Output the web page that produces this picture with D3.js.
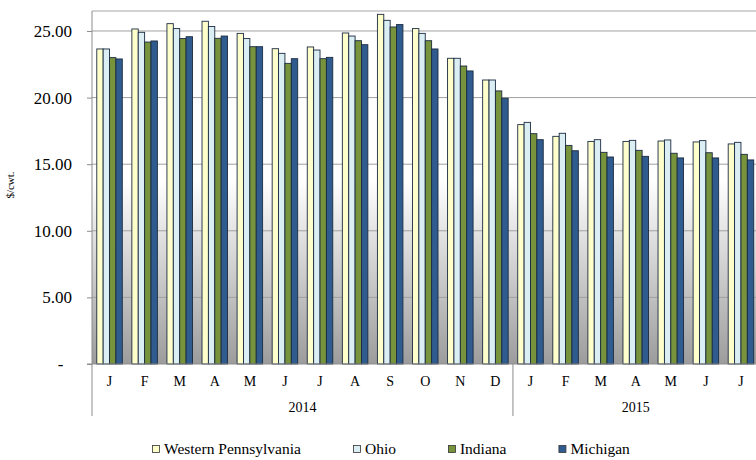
<!DOCTYPE html>
<html><head><meta charset="utf-8">
<script src="https://cdn.jsdelivr.net/npm/d3@7"></script>
<style>
body{margin:0;background:#fff}
svg{display:block}
</style>
</head><body><svg id="c" width="756" height="460"></svg>
<script>
const months = ["J","F","M","A","M","J","J","A","S","O","N","D","J","F","M","A","M","J","J"];
const years = ["2014","2015"];
const yearCounts = [12, 7];
const series = ["Western Pennsylvania","Ohio","Indiana","Michigan"];
const westernPennsylvania = [23.65,25.15,25.55,25.73,24.82,23.67,23.80,24.85,26.25,25.18,22.95,21.32, 17.97,17.09,16.71,16.71,16.74,16.67,16.52];
const ohio               = [23.65,24.90,25.18,25.34,24.43,23.32,23.57,24.62,25.80,24.82,22.95,21.32, 18.14,17.32,16.84,16.79,16.82,16.77,16.64];
const indiana            = [23.00,24.17,24.43,24.45,23.82,22.57,22.92,24.27,25.30,24.27,22.37,20.50, 17.29,16.41,15.89,16.04,15.82,15.86,15.74];
const michigan           = [22.90,24.25,24.57,24.62,23.82,22.92,23.02,23.97,25.48,23.65,22.00,19.95, 16.84,16.01,15.54,15.59,15.47,15.47,15.32];
const yTicks = [0,5,10,15,20,25];
const yTickLabels = ["-  ","5.00","10.00","15.00","20.00","25.00"];
const colors = ["#FFFFCC","#DBEEF4","#77933C","#2F5B8F"];
const yTitle = "$/cwt.";

const FONT = "'Liberation Serif', 'Times New Roman', serif";
const values = [westernPennsylvania, ohio, indiana, michigan];
const svg = d3.select("#c");
const L = 92, R = 758.5, T = 11, B = 364;

const x0 = d3.scaleBand().domain(d3.range(months.length)).range([L, R]).padding(0);
const bw = x0.bandwidth();
const gap = bw * 1.5 / 5.5;
const x1 = d3.scaleBand().domain(series).range([gap/2, bw - gap/2]).padding(0);
const y = d3.scaleLinear().domain([0, 26.5]).range([B, T]);

// plot-area gradient
const defs = svg.append("defs");
const g = defs.append("linearGradient").attr("id","bg").attr("x1",0).attr("y1",0).attr("x2",0).attr("y2",1);
g.append("stop").attr("offset","0%").attr("stop-color","#ffffff");
g.append("stop").attr("offset","48%").attr("stop-color","#ffffff");
g.append("stop").attr("offset","100%").attr("stop-color","#9c9c9c");
svg.append("rect").attr("x",L).attr("y",T).attr("width",R-L).attr("height",B-T).attr("fill","url(#bg)");

// gridlines
svg.append("g").selectAll("line").data(yTicks.filter(d=>d>0)).join("line")
  .attr("x1",L).attr("x2",R).attr("y1",d=>y(d)).attr("y2",d=>y(d))
  .attr("stroke","#a0a0a0").attr("stroke-width",1);
svg.append("line").attr("x1",L).attr("x2",R).attr("y1",T).attr("y2",T).attr("stroke","#a6a6a6").attr("stroke-width",1);

// bars
const gBars = svg.append("g");
series.forEach((s, si) => {
  gBars.append("g").selectAll("rect").data(values[si]).join("rect")
    .attr("x",(d,i)=>x0(i)+x1(s))
    .attr("y",d=>y(d))
    .attr("width",x1.bandwidth())
    .attr("height",d=>y(0)-y(d))
    .attr("fill",colors[si])
    .attr("stroke","#1b2b40").attr("stroke-width",0.9);
});

// y axis
const yAxis = d3.axisLeft(y).tickValues(yTicks).tickFormat((d,i)=>yTickLabels[i]).tickSize(5).tickPadding(15);
const ya = svg.append("g").attr("transform",`translate(${L},0)`).call(yAxis);
ya.select(".domain").remove();
ya.selectAll(".tick line").attr("stroke","#8c8c8c");
ya.selectAll(".tick text").style("font-family",FONT).style("font-size","17px").style("white-space","pre").attr("fill","#000");

svg.append("line").attr("x1",L).attr("x2",L).attr("y1",T).attr("y2",416).attr("stroke","#8c8c8c");
svg.append("line").attr("x1",L-5).attr("x2",R).attr("y1",B).attr("y2",B).attr("stroke","#8c8c8c");

// category labels
const xAxis = d3.axisBottom(x0).tickFormat(i=>months[i]).tickSize(0).tickPadding(12);
const xa = svg.append("g").attr("transform",`translate(0,${B})`).call(xAxis);
xa.select(".domain").remove();
xa.selectAll(".tick text").style("font-family",FONT).style("font-size","14px").attr("fill","#000");

// year groups
let start = 0;
years.forEach((yr, k) => {
  const n = yearCounts[k];
  const xs = x0(start), xe = x0(start + n - 1) + bw;
  svg.append("text").attr("x",(xs+xe)/2).attr("y",412).attr("text-anchor","middle")
    .style("font-family",FONT).style("font-size","14px").text(yr);
  svg.append("line").attr("x1",xe).attr("x2",xe).attr("y1",B).attr("y2",416).attr("stroke","#8c8c8c");
  start += n;
});

// y title
svg.append("text").attr("transform","translate(14,185) rotate(-90)").attr("text-anchor","middle")
  .style("font-family",FONT).style("font-size","11px").text(yTitle);

// legend
const lg = svg.append("g");
let lx = 152;
series.forEach((s, si) => {
  lg.append("rect").attr("x",lx+0.5).attr("y",445.5).attr("width",7).attr("height",7)
    .attr("fill",colors[si]).attr("stroke","#333").attr("stroke-width",0.8);
  const t = lg.append("text").attr("x",lx+12).attr("y",454)
    .style("font-family",FONT).style("font-size","15.5px").text(s);
  lx += 12 + t.node().getComputedTextLength() + 52;
});
</script>
</body></html>
